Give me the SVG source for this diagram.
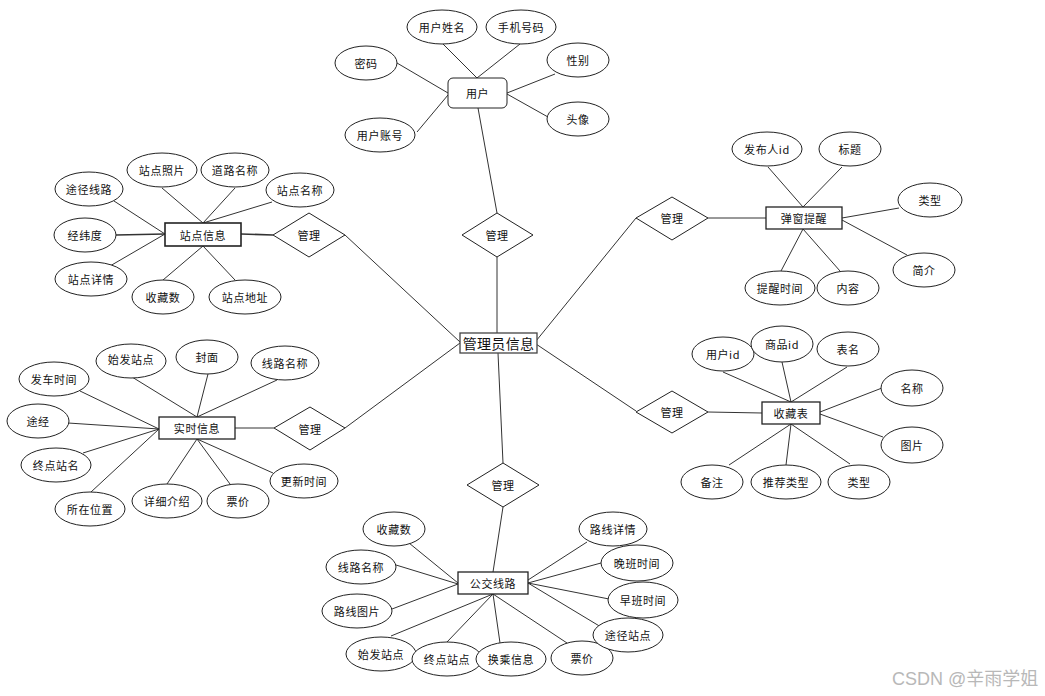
<svg xmlns="http://www.w3.org/2000/svg" width="1045" height="696" viewBox="0 0 1045 696">
<style>
.bg{fill:#fff}
.ln{stroke:#333;stroke-width:1;fill:none}
.el{fill:#fff;stroke:#222;stroke-width:1}
.bx{fill:#fff;stroke:#222;stroke-width:1.3}
.dm{fill:#fff;stroke:#222;stroke-width:1}
text{font-family:"Noto Sans CJK SC","Microsoft YaHei",sans-serif;font-size:11px;fill:#111;text-anchor:middle;dominant-baseline:central;letter-spacing:0.6px}
.big{font-size:14px;letter-spacing:0.3px}
.wm{font-family:"Liberation Sans","Noto Sans CJK SC",sans-serif;font-size:18px;fill:#b8b8b8;text-anchor:start;letter-spacing:0;dominant-baseline:auto}
</style>
<rect class="bg" width="1045" height="696"/>
<g id="connectors">
<!-- user -->
<line class="ln" x1="443" y1="44" x2="477" y2="78"/>
<line class="ln" x1="520" y1="44" x2="477" y2="78"/>
<line class="ln" x1="397" y1="63" x2="448" y2="93"/>
<line class="ln" x1="417" y1="132" x2="448" y2="95"/>
<line class="ln" x1="555" y1="74" x2="507" y2="93"/>
<line class="ln" x1="548" y1="117" x2="507" y2="94"/>
<line class="ln" x1="478" y1="108" x2="497" y2="213"/>
<line class="ln" x1="497" y1="257" x2="497" y2="333"/>
<!-- central -->
<line class="ln" x1="460" y1="342" x2="345" y2="235"/>
<line class="ln" x1="460" y1="343" x2="345" y2="428"/>
<line class="ln" x1="536" y1="341" x2="636" y2="218"/>
<line class="ln" x1="536" y1="344" x2="636" y2="411"/>
<line class="ln" x1="498" y1="353" x2="503" y2="463"/>
<line class="ln" x1="503" y1="507" x2="493" y2="572"/>
<!-- 站点信息 -->
<line class="ln" x1="162" y1="188" x2="203" y2="223"/>
<line class="ln" x1="235" y1="188" x2="203" y2="223"/>
<line class="ln" x1="272" y1="202" x2="203" y2="223"/>
<line class="ln" x1="114" y1="201" x2="165" y2="234"/>
<line class="ln" x1="116" y1="235" x2="165" y2="234" style="stroke-width:1.6"/>
<line class="ln" x1="110" y1="266" x2="165" y2="234"/>
<line class="ln" x1="163" y1="280" x2="203" y2="246"/>
<line class="ln" x1="235" y1="280" x2="203" y2="246"/>
<line class="ln" x1="241" y1="234" x2="273" y2="235" style="stroke-width:1.6"/>
<!-- 实时信息 -->
<line class="ln" x1="132" y1="377" x2="197" y2="417"/>
<line class="ln" x1="208" y1="374" x2="197" y2="417"/>
<line class="ln" x1="277" y1="380" x2="197" y2="417"/>
<line class="ln" x1="80" y1="391" x2="159" y2="429"/>
<line class="ln" x1="68" y1="423" x2="159" y2="429"/>
<line class="ln" x1="83" y1="453" x2="159" y2="429"/>
<line class="ln" x1="91" y1="492" x2="159" y2="429"/>
<line class="ln" x1="167" y1="484" x2="197" y2="439"/>
<line class="ln" x1="230" y1="484" x2="197" y2="439"/>
<line class="ln" x1="273" y1="473" x2="197" y2="439"/>
<line class="ln" x1="235" y1="428" x2="274" y2="428"/>
<!-- 弹窗提醒 -->
<line class="ln" x1="768" y1="167" x2="803" y2="207"/>
<line class="ln" x1="842" y1="167" x2="803" y2="207"/>
<line class="ln" x1="899" y1="208" x2="842" y2="218"/>
<line class="ln" x1="907" y1="255" x2="842" y2="220"/>
<line class="ln" x1="781" y1="271" x2="803" y2="229"/>
<line class="ln" x1="840" y1="271" x2="803" y2="229"/>
<line class="ln" x1="708" y1="218" x2="766" y2="218"/>
<!-- 收藏表 -->
<line class="ln" x1="723" y1="372" x2="791" y2="402"/>
<line class="ln" x1="782" y1="362" x2="791" y2="402"/>
<line class="ln" x1="847" y1="367" x2="791" y2="402"/>
<line class="ln" x1="882" y1="388" x2="820" y2="412"/>
<line class="ln" x1="883" y1="437" x2="820" y2="414"/>
<line class="ln" x1="729" y1="465" x2="791" y2="424"/>
<line class="ln" x1="786" y1="465" x2="791" y2="424"/>
<line class="ln" x1="850" y1="464" x2="791" y2="424"/>
<line class="ln" x1="708" y1="412" x2="762" y2="413"/>
<!-- 公交线路 -->
<line class="ln" x1="409" y1="543" x2="458" y2="583"/>
<line class="ln" x1="396" y1="565" x2="458" y2="584"/>
<line class="ln" x1="392" y1="609" x2="458" y2="584"/>
<line class="ln" x1="391" y1="636" x2="493" y2="594"/>
<line class="ln" x1="447" y1="642" x2="493" y2="594"/>
<line class="ln" x1="500" y1="643" x2="493" y2="594"/>
<line class="ln" x1="567" y1="643" x2="493" y2="594"/>
<line class="ln" x1="601" y1="627" x2="528" y2="583"/>
<line class="ln" x1="609" y1="599" x2="528" y2="583"/>
<line class="ln" x1="601" y1="563" x2="528" y2="583"/>
<line class="ln" x1="587" y1="542" x2="528" y2="580"/>
</g>
<!-- 用户 -->
<g id="user">
<rect class="bx" x="448" y="78" width="59" height="30" rx="5" style="stroke-width:1"/>
<text x="477.5" y="93">用户</text>
</g>
<g id="user-name"><ellipse class="el" cx="442" cy="27" rx="35" ry="17"/><text x="442" y="27">用户姓名</text></g>
<g id="user-phone"><ellipse class="el" cx="521" cy="27" rx="35" ry="17"/><text x="521" y="27">手机号码</text></g>
<g id="user-pwd"><ellipse class="el" cx="366" cy="63" rx="31" ry="17"/><text x="366" y="63">密码</text></g>
<g id="user-gender"><ellipse class="el" cx="578" cy="60" rx="31" ry="17"/><text x="578" y="60">性别</text></g>
<g id="user-avatar"><ellipse class="el" cx="578" cy="119" rx="31" ry="17"/><text x="578" y="119">头像</text></g>
<g id="user-account"><ellipse class="el" cx="380" cy="135" rx="35" ry="17"/><text x="380" y="135">用户账号</text></g>
<g id="rel-user"><polygon class="dm" points="497,213 533,235 497,257 462,235"/><text x="497" y="235">管理</text></g>

<!-- 管理员信息 -->
<g id="admin">
<rect class="bx" x="460" y="333" width="77" height="20" style="stroke:#444"/>
<text class="big" x="498.5" y="343">管理员信息</text>
</g>

<!-- 站点信息 -->
<g id="station">
<rect class="bx" x="165" y="223" width="76" height="23" style="stroke-width:1.6"/>
<text x="203" y="234.5">站点信息</text>
</g>
<g id="st-photo"><ellipse class="el" cx="162" cy="170" rx="35" ry="17"/><text x="162" y="170">站点照片</text></g>
<g id="st-road"><ellipse class="el" cx="235" cy="170" rx="34" ry="17"/><text x="235" y="170">道路名称</text></g>
<g id="st-name"><ellipse class="el" cx="300" cy="190" rx="34" ry="17"/><text x="300" y="190">站点名称</text></g>
<g id="st-route"><ellipse class="el" cx="89" cy="189" rx="34" ry="17"/><text x="89" y="189">途径线路</text></g>
<g id="st-latlng"><ellipse class="el" cx="85" cy="235" rx="31" ry="17"/><text x="85" y="235">经纬度</text></g>
<g id="st-detail"><ellipse class="el" cx="91" cy="279" rx="36" ry="17"/><text x="91" y="279">站点详情</text></g>
<g id="st-fav"><ellipse class="el" cx="163" cy="297" rx="31" ry="17"/><text x="163" y="297">收藏数</text></g>
<g id="st-addr"><ellipse class="el" cx="245" cy="297" rx="36" ry="17"/><text x="245" y="297">站点地址</text></g>
<g id="rel-station"><polygon class="dm" points="309,213 345,235 309,257 273,235"/><text x="309" y="235">管理</text></g>

<!-- 实时信息 -->
<g id="realtime">
<rect class="bx" x="159" y="417" width="76" height="22"/>
<text x="197" y="428">实时信息</text>
</g>
<g id="rt-start"><ellipse class="el" cx="131" cy="361" rx="35" ry="17"/><text x="131" y="359">始发站点</text></g>
<g id="rt-cover"><ellipse class="el" cx="207" cy="357" rx="31" ry="17"/><text x="207" y="357">封面</text></g>
<g id="rt-line"><ellipse class="el" cx="285" cy="363" rx="34" ry="17"/><text x="285" y="363">线路名称</text></g>
<g id="rt-depart"><ellipse class="el" cx="54" cy="379" rx="35" ry="17"/><text x="54" y="379">发车时间</text></g>
<g id="rt-via"><ellipse class="el" cx="38" cy="421" rx="31" ry="17"/><text x="38" y="421">途经</text></g>
<g id="rt-end"><ellipse class="el" cx="56" cy="465" rx="35" ry="17"/><text x="56" y="465">终点站名</text></g>
<g id="rt-pos"><ellipse class="el" cx="90" cy="509" rx="35" ry="17"/><text x="90" y="509">所在位置</text></g>
<g id="rt-desc"><ellipse class="el" cx="167" cy="501" rx="35" ry="17"/><text x="167" y="501">详细介绍</text></g>
<g id="rt-price"><ellipse class="el" cx="238" cy="501" rx="31" ry="17"/><text x="238" y="501">票价</text></g>
<g id="rt-update"><ellipse class="el" cx="304" cy="481" rx="34" ry="17"/><text x="304" y="481">更新时间</text></g>
<g id="rel-realtime"><polygon class="dm" points="310,407 345,428 310,450 274,428"/><text x="310" y="429">管理</text></g>

<!-- 弹窗提醒 -->
<g id="popup">
<rect class="bx" x="766" y="207" width="76" height="22"/>
<text x="804" y="218">弹窗提醒</text>
</g>
<g id="pp-pub"><ellipse class="el" cx="767" cy="149" rx="35" ry="17"/><text x="767" y="149">发布人id</text></g>
<g id="pp-title"><ellipse class="el" cx="850" cy="149" rx="31" ry="17"/><text x="850" y="149">标题</text></g>
<g id="pp-type"><ellipse class="el" cx="930" cy="200" rx="32" ry="17"/><text x="930" y="200">类型</text></g>
<g id="pp-intro"><ellipse class="el" cx="924" cy="270" rx="31" ry="17"/><text x="924" y="270">简介</text></g>
<g id="pp-time"><ellipse class="el" cx="780" cy="288" rx="35" ry="17"/><text x="780" y="288">提醒时间</text></g>
<g id="pp-content"><ellipse class="el" cx="848" cy="288" rx="31" ry="17"/><text x="848" y="288">内容</text></g>
<g id="rel-popup"><polygon class="dm" points="672,197 708,218 672,240 636,218"/><text x="672" y="218">管理</text></g>

<!-- 收藏表 -->
<g id="favorite">
<rect class="bx" x="762" y="402" width="58" height="22"/>
<text x="791" y="413">收藏表</text>
</g>
<g id="fv-user"><ellipse class="el" cx="723" cy="354" rx="31" ry="17"/><text x="723" y="354">用户id</text></g>
<g id="fv-goods"><ellipse class="el" cx="782" cy="344" rx="31" ry="18"/><text x="782" y="344">商品id</text></g>
<g id="fv-table"><ellipse class="el" cx="848" cy="349" rx="31" ry="17"/><text x="848" y="349">表名</text></g>
<g id="fv-name"><ellipse class="el" cx="912" cy="388" rx="31" ry="18"/><text x="912" y="388">名称</text></g>
<g id="fv-img"><ellipse class="el" cx="912" cy="445" rx="31" ry="18"/><text x="912" y="445">图片</text></g>
<g id="fv-note"><ellipse class="el" cx="712" cy="482" rx="31" ry="17"/><text x="712" y="482">备注</text></g>
<g id="fv-rec"><ellipse class="el" cx="786" cy="482" rx="35" ry="17"/><text x="786" y="482">推荐类型</text></g>
<g id="fv-type"><ellipse class="el" cx="859" cy="482" rx="31" ry="17"/><text x="859" y="482">类型</text></g>
<g id="rel-favorite"><polygon class="dm" points="672,391 708,412 672,433 636,412"/><text x="672" y="412">管理</text></g>

<!-- 公交线路 -->
<g id="rel-bus"><polygon class="dm" points="503,463 539,485 503,507 467,485"/><text x="503" y="485">管理</text></g>
<g id="busline">
<rect class="bx" x="458" y="572" width="70" height="22"/>
<text x="493" y="583">公交线路</text>
</g>
<g id="bl-fav"><ellipse class="el" cx="394" cy="529" rx="31" ry="17"/><text x="394" y="529">收藏数</text></g>
<g id="bl-name"><ellipse class="el" cx="361" cy="567" rx="35" ry="17"/><text x="361" y="567">线路名称</text></g>
<g id="bl-img"><ellipse class="el" cx="357" cy="611" rx="35" ry="17"/><text x="357" y="611">路线图片</text></g>
<g id="bl-start"><ellipse class="el" cx="381" cy="654" rx="35" ry="17"/><text x="381" y="654">始发站点</text></g>
<g id="bl-end"><ellipse class="el" cx="447" cy="659" rx="35" ry="17"/><text x="447" y="659">终点站点</text></g>
<g id="bl-transfer"><ellipse class="el" cx="511" cy="659" rx="35" ry="17"/><text x="511" y="659">换乘信息</text></g>
<g id="bl-price"><ellipse class="el" cx="582" cy="658" rx="31" ry="17"/><text x="582" y="658">票价</text></g>
<g id="bl-via"><ellipse class="el" cx="628" cy="635" rx="35" ry="17"/><text x="628" y="635">途径站点</text></g>
<g id="bl-early"><ellipse class="el" cx="643" cy="600" rx="35" ry="18"/><text x="643" y="600">早班时间</text></g>
<g id="bl-late"><ellipse class="el" cx="637" cy="563" rx="36" ry="18"/><text x="637" y="563">晚班时间</text></g>
<g id="bl-detail"><ellipse class="el" cx="613" cy="529" rx="34" ry="17"/><text x="613" y="529">路线详情</text></g>

<text class="wm" x="892" y="685">CSDN @辛雨学姐</text>
</svg>
